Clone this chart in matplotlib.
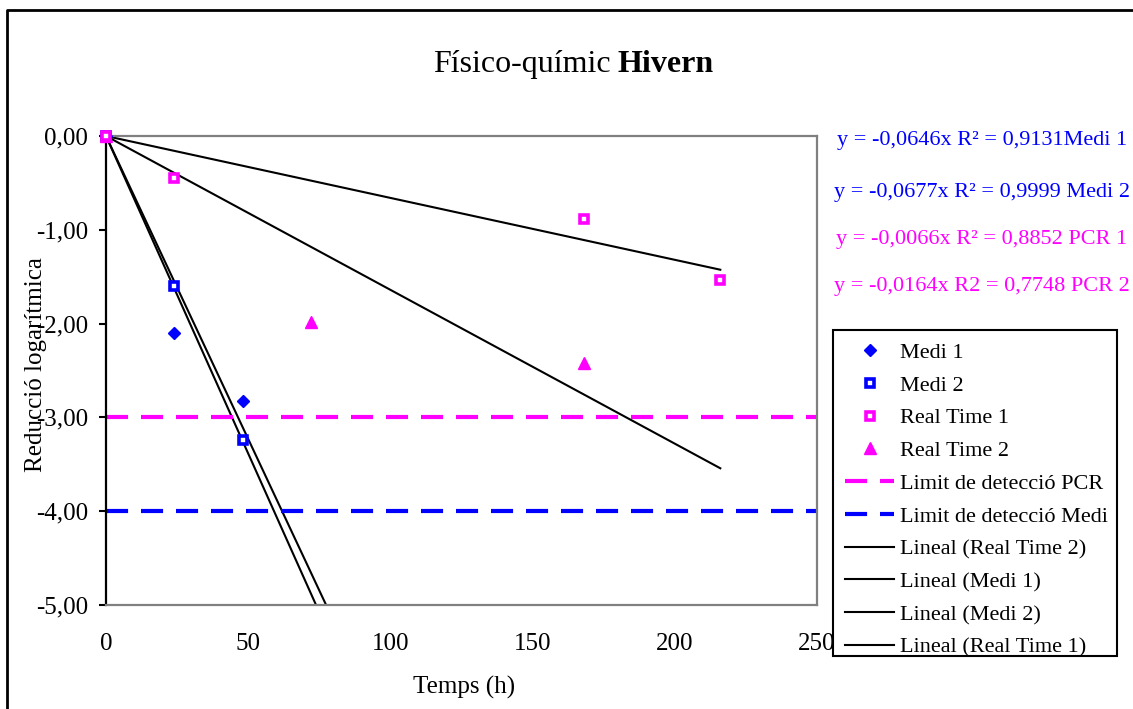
import numpy as np
import matplotlib
matplotlib.use("Agg")
import matplotlib.pyplot as plt
from matplotlib.lines import Line2D
from matplotlib.patches import Rectangle

plt.rcParams['font.family'] = ['Liberation Serif', 'DejaVu Serif']

# dades (hores, reduccio logaritmica)
medi1_t = [0, 24, 48]
medi1_y = [0.0, -2.10, -2.83]
medi2_t = [0, 24, 48]
medi2_y = [0.0, -1.60, -3.24]
rt1_t = [0, 24, 168, 216]
rt1_y = [0.0, -0.45, -0.88, -1.54]
rt2_t = [0, 72, 168]
rt2_y = [0.0, -1.98, -2.42]

# pendents de les linies de tendencia (y = a x)
slope_medi1 = -0.0646
slope_medi2 = -0.0677
slope_rt1 = -0.0066
slope_rt2 = -0.0164
trend_end = 216

pcr_limit = -3.0
medi_limit = -4.0

equations = [
    ("y = -0,0646x R² = 0,9131Medi 1", "#0000FF"),
    ("y = -0,0677x R² = 0,9999 Medi 2", "#0000FF"),
    ("y = -0,0066x R² = 0,8852 PCR 1", "#FF00FF"),
    ("y = -0,0164x R2 = 0,7748 PCR 2", "#FF00FF"),
]

blue = "#0000FF"
magenta = "#FF00FF"

W, H = 1133, 709
fig = plt.figure(figsize=(W / 100, H / 100), dpi=100)
ax = fig.add_axes([106 / W, 1 - 605 / H, (817 - 106) / W, (605 - 136) / H])

xt = np.array([0, trend_end])
l_rt2, = ax.plot(xt, slope_rt2 * xt, color='black', lw=1.5)
l_m1, = ax.plot(xt, slope_medi1 * xt, color='black', lw=1.5)
l_m2, = ax.plot(xt, slope_medi2 * xt, color='black', lw=1.5)
l_rt1, = ax.plot(xt, slope_rt1 * xt, color='black', lw=1.5)

lim_pcr = ax.axhline(pcr_limit, color=magenta, lw=3, dashes=(5.3, 3.1))
lim_medi = ax.axhline(medi_limit, color=blue, lw=3, dashes=(5.3, 3.1))

p_m1, = ax.plot(medi1_t, medi1_y, 'D', color=blue, ms=6, ls='none', zorder=5, clip_on=False)
p_m2, = ax.plot(medi2_t, medi2_y, 's', mfc='white', mec=blue, mew=2.6, ms=6, ls='none',
                zorder=5, clip_on=False)
p_rt2, = ax.plot(rt2_t, rt2_y, '^', color=magenta, ms=8, ls='none', zorder=5, clip_on=False)
p_rt1, = ax.plot(rt1_t, rt1_y, 's', mfc='white', mec=magenta, mew=2.6, ms=6, ls='none',
                 zorder=6, clip_on=False)

ax.set_xlim(0, 250)
ax.set_ylim(-5, 0)
ax.set_xticks([0, 50, 100, 150, 200, 250])
ax.set_yticks([0, -1, -2, -3, -4, -5])
ax.set_yticklabels(["0,00", "-1,00", "-2,00", "-3,00", "-4,00", "-5,00"])
ax.tick_params(axis='x', length=0, pad=20, labelsize=18)
ax.tick_params(axis='y', length=5, width=1.5, pad=8, labelsize=18, direction='out')

for s in ['top', 'right', 'bottom']:
    ax.spines[s].set_color('#808080')
    ax.spines[s].set_linewidth(1.6)
ax.spines['left'].set_color('black')
ax.spines['left'].set_linewidth(1.6)

fig.text(464 / W, 1 - 687 / H, "Temps (h)", ha='center', va='center', fontsize=18)
fig.text(36 / W, 1 - 365 / H, "Reducció logarítmica", ha='center', va='center',
         rotation=90, fontsize=18)

# titol amb part en negreta
fig.text(611 / W, 1 - 72 / H, "Físico-químic", ha='right', va='baseline', fontsize=23)
fig.text(618 / W, 1 - 72 / H, "Hivern", ha='left', va='baseline', fontsize=23, fontweight='bold')

eq_y = [140, 192, 240, 286]
for (txt, col), yy in zip(equations, eq_y):
    fig.text(982 / W, 1 - yy / H, txt, ha='center', va='center', fontsize=16, color=col)

handles = [p_m1, p_m2, p_rt1, p_rt2, lim_pcr, lim_medi, l_rt2, l_m1, l_m2, l_rt1]
labels = ["Medi 1", "Medi 2", "Real Time 1", "Real Time 2",
          "Limit de detecció PCR", "Limit de detecció Medi",
          "Lineal (Real Time 2)", "Lineal (Medi 1)", "Lineal (Medi 2)", "Lineal (Real Time 1)"]
leg = fig.legend(handles, labels, loc='upper left', bbox_to_anchor=(833 / W, 1 - 330 / H),
                 fontsize=16, frameon=False, handlelength=2.2,
                 handletextpad=0.25, labelspacing=0.55, borderpad=0.55, borderaxespad=0)
# marc de la llegenda (ajustat, com a l'original)
fig.add_artist(Rectangle((833 / W, 1 - 656 / H), (1117 - 833) / W, (656 - 330) / H,
                         transform=fig.transFigure, fill=True, facecolor='white',
                         edgecolor='black', lw=1.5, zorder=0.5))
leg.set_zorder(3)

# marc de la figura
fig.add_artist(Line2D([7 / W, 7 / W, 1.0], [0.0, 1 - 10 / H, 1 - 10 / H],
                      transform=fig.transFigure, color='black', lw=2))

fig.savefig("out.png", dpi=100)
